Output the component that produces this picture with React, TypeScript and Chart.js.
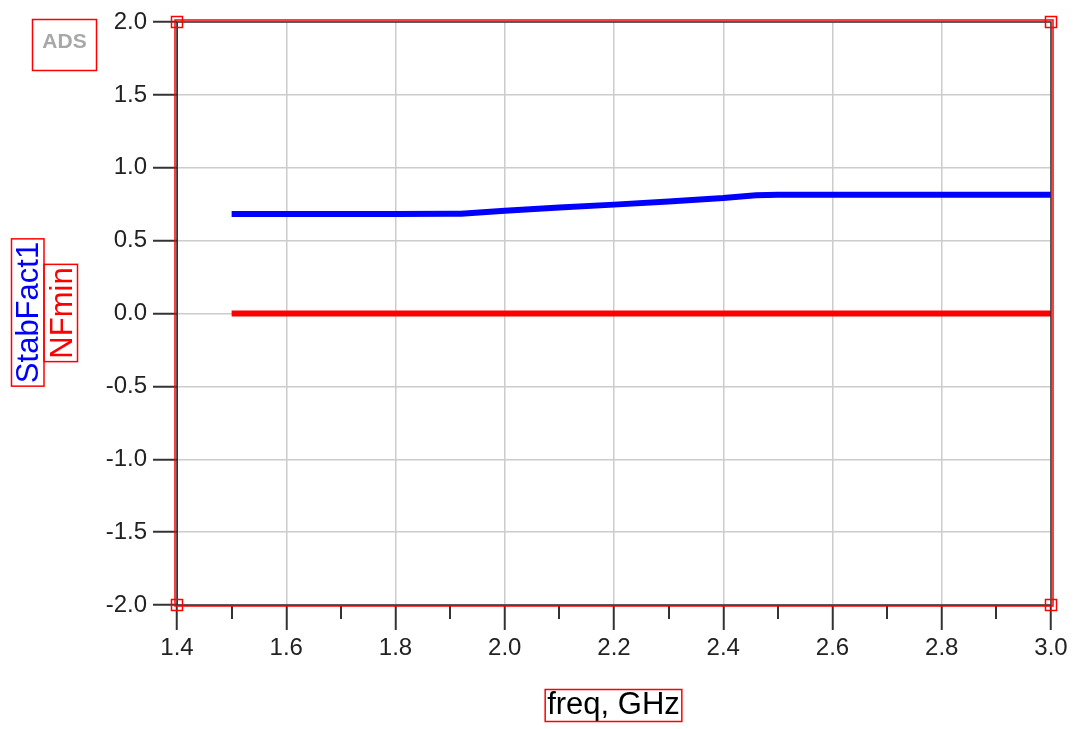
import React, { useEffect, useRef } from "react";
import { Chart, registerables } from "chart.js";

Chart.register(...registerables);

const freqGHz = [1.5, 1.6, 1.7, 1.8, 1.9, 1.92, 2.0, 2.1, 2.2, 2.3, 2.4, 2.46, 2.5, 2.6, 2.7, 2.8, 2.9, 3.0];
const stabFact1 = [0.683, 0.683, 0.683, 0.683, 0.684, 0.685, 0.705, 0.727, 0.747, 0.768, 0.792, 0.812, 0.814, 0.814, 0.814, 0.814, 0.814, 0.814];
const nfMin = [0, 0, 0, 0, 0, 0, 0, 0, 0, 0, 0, 0, 0, 0, 0, 0, 0, 0];

const xTickValues = [1.4, 1.6, 1.8, 2.0, 2.2, 2.4, 2.6, 2.8, 3.0];
const xMinorTickValues = [1.5, 1.7, 1.9, 2.1, 2.3, 2.5, 2.7, 2.9];
const yTickValues = [-2.0, -1.5, -1.0, -0.5, 0.0, 0.5, 1.0, 1.5, 2.0];

const xTitle = "freq, GHz";
const yTitle1 = "StabFact1";
const yTitle2 = "NFmin";
const badge = "ADS";

const FONT = "'Liberation Sans', Arial, sans-serif";

const overlayPlugin = {
  id: "adsOverlay",
  afterDraw(chart: any) {
    const ctx = chart.ctx as CanvasRenderingContext2D;
    const { left, right, top, bottom } = chart.chartArea;
    const xs = chart.scales.x;
    ctx.save();

    // minor x ticks
    ctx.strokeStyle = "#333";
    ctx.lineWidth = 2;
    for (const v of xMinorTickValues) {
      const px = Math.round(xs.getPixelForValue(v));
      ctx.beginPath();
      ctx.moveTo(px, bottom);
      ctx.lineTo(px, bottom + 14);
      ctx.stroke();
    }

    // black plot frame
    ctx.strokeStyle = "#333";
    ctx.lineWidth = 1.5;
    ctx.strokeRect(left, top, right - left, bottom - top);

    // red selection frame
    ctx.strokeStyle = "#ff0000";
    ctx.lineWidth = 1.5;
    ctx.strokeRect(left - 2, top - 2, right - left + 4, bottom - top + 3);

    // corner squares
    const s = 11;
    const corners = [
      [left, top],
      [right, top],
      [left, bottom],
      [right, bottom],
    ];
    ctx.lineWidth = 1.5;
    for (const [cx, cy] of corners) {
      ctx.strokeRect(cx - s / 2, cy - s / 2, s, s);
    }

    // ADS badge
    ctx.strokeStyle = "#ff0000";
    ctx.lineWidth = 1.5;
    ctx.strokeRect(32.5, 19.5, 64, 51);
    ctx.fillStyle = "#a8a8a8";
    ctx.font = `bold 21px ${FONT}`;
    ctx.textAlign = "center";
    ctx.textBaseline = "middle";
    ctx.fillText(badge, 64.5, 42);

    // x title
    ctx.font = `31px ${FONT}`;
    ctx.fillStyle = "#000";
    ctx.textAlign = "center";
    ctx.textBaseline = "alphabetic";
    const xtW = ctx.measureText(xTitle).width;
    const xtCx = (left + right) / 2 - 0.5;
    ctx.fillText(xTitle, xtCx, 714);
    ctx.strokeStyle = "#ff0000";
    ctx.strokeRect(xtCx - xtW / 2 - 2, 689.5, xtW + 4, 32);

    // y titles (rotated)
    const drawRot = (text: string, cx: number, cy: number, color: string, boxL: number, boxR: number) => {
      ctx.save();
      ctx.font = `31px ${FONT}`;
      const w = ctx.measureText(text).width;
      ctx.translate(cx, cy);
      ctx.rotate(-Math.PI / 2);
      ctx.fillStyle = color;
      ctx.textAlign = "center";
      ctx.textBaseline = "alphabetic";
      ctx.fillText(text, 0, 11);
      ctx.restore();
      ctx.strokeStyle = "#ff0000";
      ctx.lineWidth = 1.5;
      ctx.strokeRect(boxL, cy - w / 2 - 3, boxR - boxL, w + 6);
    };
    drawRot(yTitle1, 27, 312.5, "#0000ff", 11.5, 44);
    drawRot(yTitle2, 61, 313, "#ff0000", 44, 77.5);

    ctx.restore();
  },
};

export default function App() {
  const ref = useRef<HTMLCanvasElement | null>(null);

  useEffect(() => {
    if (!ref.current) return;
    const chart = new Chart(ref.current, {
      type: "line",
      data: {
        datasets: [
          {
            label: yTitle1,
            data: freqGHz.map((f, i) => ({ x: f, y: stabFact1[i] })),
            borderColor: "#0000ff",
            borderWidth: 6,
            borderCapStyle: "butt",
            pointRadius: 0,
            tension: 0,
            fill: false,
          },
          {
            label: yTitle2,
            data: freqGHz.map((f, i) => ({ x: f, y: nfMin[i] })),
            borderColor: "#ff0000",
            borderWidth: 6,
            borderCapStyle: "butt",
            pointRadius: 0,
            tension: 0,
            fill: false,
          },
        ],
      },
      options: {
        responsive: false,
        animation: false,
        layout: { padding: { top: 22, right: 26, left: 0, bottom: 0 } },
        plugins: {
          legend: { display: false },
          tooltip: { enabled: false },
        },
        scales: {
          x: {
            type: "linear",
            min: 1.4,
            max: 3.0,
            afterBuildTicks: (scale: any) => {
              scale.ticks = xTickValues.map((v) => ({ value: v }));
            },
            afterFit: (scale: any) => {
              scale.height = 124;
            },
            grid: {
              color: "#cccccc",
              lineWidth: 1.5,
              tickColor: "#333",
              tickWidth: 2,
              tickLength: 25,
            },
            border: { display: true, color: "#333", width: 1 },
            ticks: {
              font: { family: FONT, size: 24 },
              color: "#222",
              padding: 4,
              maxRotation: 0,
              callback: (v: any) => Number(v).toFixed(1),
            },
          },
          y: {
            type: "linear",
            min: -2,
            max: 2,
            afterBuildTicks: (scale: any) => {
              scale.ticks = yTickValues.map((v) => ({ value: v }));
            },
            afterFit: (scale: any) => {
              scale.width = 177;
            },
            grid: {
              color: "#cccccc",
              lineWidth: 1.5,
              tickColor: "#333",
              tickWidth: 2,
              tickLength: 24,
            },
            border: { display: true, color: "#333", width: 1 },
            ticks: {
              font: { family: FONT, size: 24 },
              color: "#222",
              padding: 6,
              callback: (v: any) => Number(v).toFixed(1),
            },
          },
        },
      },
      plugins: [overlayPlugin],
    } as any);
    return () => chart.destroy();
  }, []);

  return (
    <div style={{ position: "absolute", left: 0, top: 0, width: 1077, height: 729, background: "#fff" }}>
      <canvas ref={ref} width={1077} height={729} style={{ display: "block" }} />
    </div>
  );
}
